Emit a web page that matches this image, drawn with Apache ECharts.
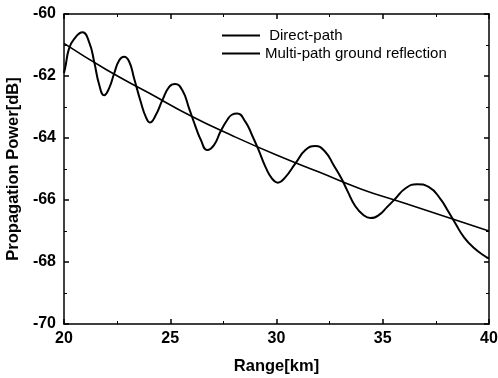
<!DOCTYPE html>
<html>
<head>
<meta charset="utf-8">
<script src="https://cdn.jsdelivr.net/npm/echarts@6/dist/echarts.min.js"></script>
<style>html,body{margin:0;padding:0;background:#fff}#c{width:498px;height:378px}</style>
</head>
<body>
<div id="c"></div>
<script>
var seriesNames = ['Direct-path', 'Multi-path ground reflection'];
var directX = [20, 22, 24, 26, 28, 30, 32, 34, 36, 38, 40];
var directY = [-60.95, -61.8, -62.55, -63.3, -63.95, -64.55, -65.1, -65.65, -66.1, -66.55, -67.0];
var multiX = [20, 20.06, 20.24, 20.48, 20.87, 21.19, 21.42, 21.66, 21.89, 22.12, 22.36, 22.6, 22.83, 23.07, 23.3, 23.61, 23.85, 24.04, 24.32, 24.63, 24.95, 25.23, 25.57, 25.89, 26.12, 26.28, 26.42, 26.74, 27.05, 27.36, 27.68, 27.9, 28.15, 28.54, 28.85, 29.16, 29.48, 29.79, 30.06, 30.42, 30.89, 31.36, 31.83, 32.3, 32.69, 33.05, 33.32, 33.71, 34.1, 34.42, 34.81, 35.2, 35.59, 36.06, 36.61, 37.16, 37.71, 38.1, 38.42, 38.81, 39.28, 39.91, 40];
var multiY = [-61.9, -61.72, -61.11, -60.8, -60.59, -60.92, -61.54, -62.29, -62.62, -62.4, -61.92, -61.49, -61.38, -61.54, -62.08, -62.83, -63.32, -63.5, -63.26, -62.78, -62.35, -62.26, -62.46, -63.05, -63.5, -63.8, -64.03, -64.39, -64.24, -63.8, -63.42, -63.25, -63.21, -63.48, -63.91, -64.39, -64.93, -65.31, -65.44, -65.26, -64.82, -64.39, -64.26, -64.45, -64.88, -65.3, -65.68, -66.2, -66.49, -66.58, -66.49, -66.23, -65.96, -65.63, -65.49, -65.58, -65.96, -66.39, -66.76, -67.19, -67.54, -67.86, -67.88];
var xTicks = [20, 25, 30, 35, 40];
var yTicks = [-70, -68, -66, -64, -62, -60];

function pairs(xs, ys) { return xs.map(function (x, i) { return [x, ys[i]]; }); }

var font = 'Liberation Sans, Arial, sans-serif';
var chart = echarts.init(document.getElementById('c'), null, {renderer: 'canvas'});
var axisCommon = {
  axisLine: {show: true, lineStyle: {color: '#000', width: 1.5}},
  axisTick: {show: true, inside: true, length: 5, lineStyle: {color: '#000', width: 1.5}},
  minorTick: {show: true, splitNumber: 2, length: 3, lineStyle: {color: '#000', width: 1}},
  splitLine: {show: false}
};
chart.setOption({
  animation: false,
  backgroundColor: '#fff',
  grid: {left: 64, right: 9, top: 14, bottom: 54, containLabel: false, outerBoundsMode: 'none'},
  legend: {
    orient: 'vertical', left: 217, top: 23, icon: 'rect', itemWidth: 38, itemHeight: 2, itemGap: 3,
    textStyle: {fontFamily: font, fontSize: 15, color: '#000'},
    formatter: function (name) { return name === seriesNames[0] ? ' ' + name : name; },
    data: seriesNames
  },
  xAxis: [
    Object.assign({
      type: 'value', min: xTicks[0], max: xTicks[xTicks.length - 1], interval: 5,
      name: 'Range[km]', nameLocation: 'middle', nameGap: 34,
      nameTextStyle: {fontFamily: font, fontSize: 16.5, fontWeight: 'bold', color: '#000'},
      axisLabel: {fontFamily: font, fontSize: 16, fontWeight: 'bold', color: '#000', margin: 7}
    }, axisCommon),
    Object.assign({
      type: 'value', position: 'top', min: 20, max: 40, interval: 5,
      axisLabel: {show: false}
    }, axisCommon)
  ],
  yAxis: [
    Object.assign({
      type: 'value', min: yTicks[0], max: yTicks[yTicks.length - 1], interval: 2,
      name: 'Propagation Power[dB]', nameLocation: 'middle', nameGap: 42,
      nameTextStyle: {fontFamily: font, fontSize: 16.5, fontWeight: 'bold', color: '#000'},
      axisLabel: {fontFamily: font, fontSize: 16, fontWeight: 'bold', color: '#000', margin: 8}
    }, axisCommon),
    Object.assign({
      type: 'value', position: 'right', min: -70, max: -60, interval: 2,
      axisLabel: {show: false}
    }, axisCommon)
  ],
  series: [
    {
      name: seriesNames[0], type: 'line', symbol: 'none', smooth: true,
      lineStyle: {color: '#000', width: 1.6}, itemStyle: {color: '#000'},
      data: pairs(directX, directY)
    },
    {
      name: seriesNames[1], type: 'line', symbol: 'none', smooth: 0.5,
      lineStyle: {color: '#000', width: 2}, itemStyle: {color: '#000'},
      data: pairs(multiX, multiY)
    }
  ]
});
</script>
</body>
</html>
